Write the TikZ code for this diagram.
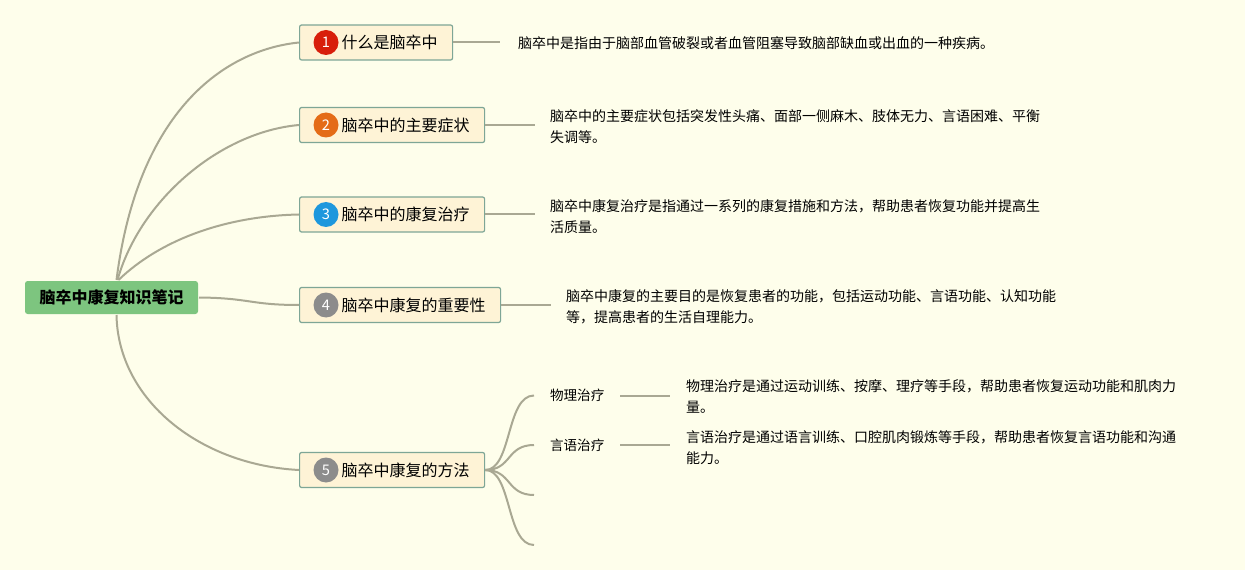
\documentclass[tikz,border=0pt]{standalone}
\usepackage{fontspec}
\setmainfont{Noto Sans CJK SC}
\usetikzlibrary{positioning}

\definecolor{bgc}{HTML}{FEFEEB}
\definecolor{linec}{HTML}{A9A893}
\definecolor{boxfill}{HTML}{FEF3D6}
\definecolor{boxline}{HTML}{7EA696}
\definecolor{rootfill}{HTML}{7DC57F}
\definecolor{numred}{HTML}{D81E0B}
\definecolor{numorange}{HTML}{E46B17}
\definecolor{numblue}{HTML}{1D97DD}
\definecolor{numgray}{HTML}{8C8C8C}

\def\descsize{\fontsize{10.5pt}{15.75pt}\selectfont}

\begin{document}
\begin{tikzpicture}[x=0.75pt,y=-0.75pt,line width=1.5pt]
    \tikzstyle{branch}=[draw=linec,line width=1.5pt]
    \tikzstyle{topic}=[draw=boxline,fill=boxfill,line width=0.9pt,rounded corners=1.5pt,anchor=west,inner sep=0pt,minimum height=26.25pt,align=left,font=\fontsize{12pt}{14pt}\selectfont]
    \tikzstyle{num}=[circle,inner sep=0pt,minimum size=18.75pt,text=white,font=\fontsize{11pt}{12pt}\selectfont]
    \tikzstyle{desc}=[anchor=west,inner sep=0pt,align=left,font=\descsize]

    \fill[bgc] (0,0) rectangle (1245,570);
    \useasboundingbox (0,0) rectangle (1245,570);

    % root
    \node[fill=rootfill,rounded corners=2pt,minimum width=129.75pt,minimum height=24.75pt,inner sep=0pt,font=\fontsize{12pt}{14pt}\selectfont\bfseries] (root) at (111.5,297.5) {脑卒中康复知识笔记};

    % main topics
    \node[topic,text width=114.75pt] (t1) at (299,42.5) {\hspace*{31.5pt}什么是脑卒中};
    \node[topic,text width=138.75pt] (t2) at (299,125) {\hspace*{31.5pt}脑卒中的主要症状};
    \node[topic,text width=138.75pt] (t3) at (299,214.5) {\hspace*{31.5pt}脑卒中的康复治疗};
    \node[topic,text width=150.75pt] (t4) at (299,305) {\hspace*{31.5pt}脑卒中康复的重要性};
    \node[topic,text width=138.75pt] (t5) at (299,470) {\hspace*{31.5pt}脑卒中康复的方法};

    \node[num,fill=numred] (n1) at (326,42.5) {1};
    \node[num,fill=numorange] (n2) at (326,125) {2};
    \node[num,fill=numblue] (n3) at (326,214.5) {3};
    \node[num,fill=numgray] (n4) at (326,305) {4};
    \node[num,fill=numgray] (n5) at (326,470) {5};

    % descriptions
    \node[desc] (d1) at (517,43.5) {脑卒中是指由于脑部血管破裂或者血管阻塞导致脑部缺血或出血的一种疾病。};
    \node[desc] (d2) at (549,126.5) {脑卒中的主要症状包括突发性头痛、面部一侧麻木、肢体无力、言语困难、平衡\\失调等。};
    \node[desc] (d3) at (549,216.5) {脑卒中康复治疗是指通过一系列的康复措施和方法，帮助患者恢复功能并提高生\\活质量。};
    \node[desc] (d4) at (565,306.5) {脑卒中康复的主要目的是恢复患者的功能，包括运动功能、言语功能、认知功能\\等，提高患者的生活自理能力。};

    % methods
    \node[desc,font=\fontsize{10.2pt}{12pt}\selectfont] (s1) at (549,395.5) {物理治疗};
    \node[desc,font=\fontsize{10.2pt}{12pt}\selectfont] (s2) at (549,445) {言语治疗};
    \coordinate (e1) at (534,495);
    \coordinate (e2) at (534,545);
    \node[desc] (sd1) at (685,396.5) {物理治疗是通过运动训练、按摩、理疗等手段，帮助患者恢复运动功能和肌肉力\\量。};
    \node[desc] (sd2) at (685,447.5) {言语治疗是通过语言训练、口腔肌肉锻炼等手段，帮助患者恢复言语功能和沟通\\能力。};

    % branches from root
    \draw[branch] ([xshift=3.75pt]root.north) .. controls (138,110) and (225,50) .. (t1.west);
    \draw[branch] ([xshift=4.5pt]root.north) .. controls (140,200) and (220,132) .. (t2.west);
    \draw[branch] ([xshift=5.25pt]root.north) .. controls (160,240) and (225,216) .. (t3.west);
    \draw[branch] (root.east) .. controls (250,298) and (250,305) .. (t4.west);
    \draw[branch] ([xshift=3.75pt]root.south) .. controls (118,400) and (200,465) .. (t5.west);

    \draw[branch,shorten >=12.75pt] (t1.east) -- (t1.east -| d1.west);
    \draw[branch,shorten >=10.5pt] (t2.east) -- (t2.east -| d2.west);
    \draw[branch,shorten >=10.5pt] (t3.east) -- (t3.east -| d3.west);
    \draw[branch,shorten >=10.5pt] (t4.east) -- (t4.east -| d4.west);

    % children of topic 5
    \draw[branch,shorten >=11.25pt] (t5.east) .. controls (512,470) and (506,395.5) .. (s1.west);
    \draw[branch,shorten >=11.25pt] (t5.east) .. controls (512,470) and (506,445) .. (s2.west);
    \draw[branch] (t5.east) .. controls (512,470) and (506,495) .. (e1);
    \draw[branch] (t5.east) .. controls (512,470) and (506,545) .. (e2);

    \draw[branch,shorten <=11.25pt,shorten >=11.25pt] (s1.east) -- (s1.east -| sd1.west);
    \draw[branch,shorten <=11.25pt,shorten >=11.25pt] (s2.east) -- (s2.east -| sd2.west);
\end{tikzpicture}
\end{document}
